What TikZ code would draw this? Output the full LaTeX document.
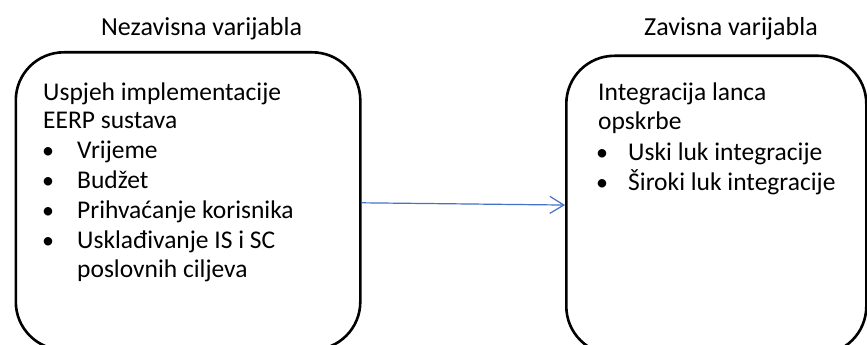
\documentclass[tikz,border=0pt]{standalone}
\usepackage{fontspec}
\setmainfont{Carlito}
\usetikzlibrary{arrows.meta,calc}
\definecolor{arrowblue}{HTML}{4472C4}
\begin{document}
\begin{tikzpicture}[x=1pt,y=-1pt,
  box/.style={draw=black, line width=2.6pt, rounded corners=48pt, inner sep=0pt},
  txt/.style={anchor=base west, inner sep=0pt, font=\fontsize{25.5}{30}\selectfont},
  ttl/.style={anchor=base west, inner sep=0pt, font=\fontsize{26}{31}\selectfont},
  bul/.style={anchor=base, inner sep=0pt, font=\fontsize{24}{29}\selectfont},
  conn/.style={draw=arrowblue, line width=1.2pt, -{Straight Barb[length=14pt,width=17pt,line width=1.2pt]}}
]
\useasboundingbox (0,0) rectangle (867,345);
\clip (0,0) rectangle (867,345);
\fill[white] (0,0) rectangle (867,345);
% titles
\node[ttl] (t1) at (101,36) {Nezavisna varijabla};
\node[ttl] (t2) at (644,36) {Zavisna varijabla};
% boxes
\node[box, minimum width=344.5pt, minimum height=297.5pt, anchor=north west] (L) at (14.5,51) {};
\node[box, minimum width=300pt, minimum height=298.5pt, anchor=north west] (R) at (565,54.5) {};
% left text
\node[txt] (l1) at (43,100) {Uspjeh implementacije};
\node[txt] (l2) at (43,128) {EERP sustava};
\node[bul] (lb1) at (48,158) {•};
\node[txt] (l3) at (77,158) {Vrijeme};
\node[bul] (lb2) at (48,188) {•};
\node[txt] (l4) at (77,188) {Budžet};
\node[bul] (lb3) at (48,218) {•};
\node[txt] (l5) at (77,218) {Prihvaćanje korisnika};
\node[bul] (lb4) at (48,248) {•};
\node[txt] (l6) at (77,248) {Usklađivanje IS i SC};
\node[txt] (l7) at (77,277) {poslovnih ciljeva};
% right text
\node[txt] (r1) at (598,100) {Integracija lanca};
\node[txt] (r2) at (598,129) {opskrbe};
\node[bul] (rb1) at (602,160) {•};
\node[txt] (r3) at (628,160) {Uski luk integracije};
\node[bul] (rb2) at (602,190) {•};
\node[txt] (r4) at (628,190) {Široki luk integracije};
% connector
\coordinate (a1) at ($(L.east)+(0,1.75)$);
\draw[conn] (a1) -- (R.west);
\end{tikzpicture}
\end{document}
